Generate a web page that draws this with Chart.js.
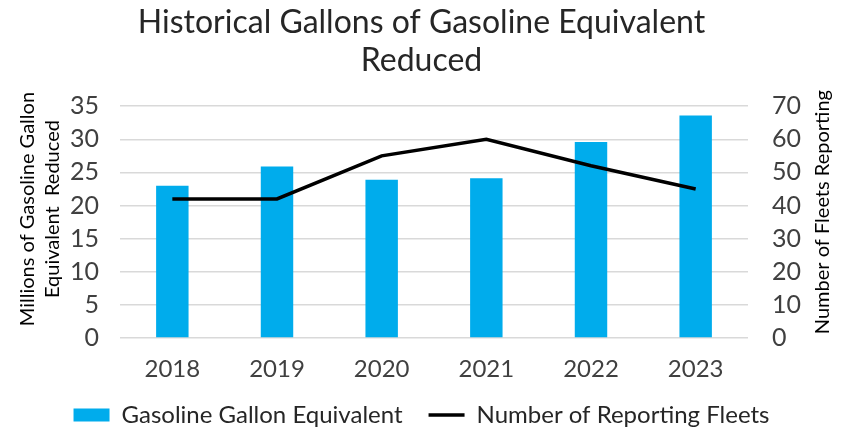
<!DOCTYPE html>
<html>
<head>
<meta charset="utf-8">
<script src="https://cdn.jsdelivr.net/npm/chart.js@4"></script>
<style>
  html, body { margin: 0; padding: 0; background: #fff; }
  #wrap { width: 843px; height: 430px; }
</style>
</head>
<body>
<div id="wrap"><canvas id="chart" width="843" height="430"></canvas></div>
<script>
const years = ['2018', '2019', '2020', '2021', '2022', '2023'];
const gallons = [23.0, 25.9, 23.9, 24.1, 29.6, 33.6];
const fleets = [42, 42, 55, 60, 52, 45];
const leftTicks = [0, 5, 10, 15, 20, 25, 30, 35];
const rightTicks = [0, 10, 20, 30, 40, 50, 60, 70];
const leftTitle = ['Millions of Gasoline Gallon', 'Equivalent  Reduced'];
const rightTitle = 'Number of Fleets Reporting';

const FONT = 'Lato, "Open Sans", sans-serif';
const BLUE = '#00acec';
const GRID = '#d9d9d9';
const TICK = '#404040';

Chart.defaults.font.family = FONT;

// axis titles drawn by hand so both read bottom-to-top like the original
const axisTitles = {
  id: 'axisTitles',
  afterDraw(chart) {
    const { ctx, chartArea } = chart;
    const midY = (chartArea.top + chartArea.bottom) / 2 - 13;
    ctx.save();
    ctx.fillStyle = '#000';
    ctx.font = '20px ' + FONT;
    ctx.textAlign = 'center';
    ctx.textBaseline = 'middle';
    leftTitle.forEach((line, i) => {
      ctx.save();
      ctx.translate(28 + i * 25, midY);
      ctx.rotate(-Math.PI / 2);
      ctx.fillText(line, 0, 0);
      ctx.restore();
    });
    ctx.translate(chart.width - 20, midY + 3);
    ctx.rotate(-Math.PI / 2);
    ctx.fillText(rightTitle, 0, 0);
    ctx.restore();
  }
};

new Chart(document.getElementById('chart'), {
  type: 'bar',
  data: {
    labels: years,
    datasets: [
      {
        type: 'line',
        label: 'Number of Reporting Fleets',
        data: fleets,
        yAxisID: 'y1',
        borderColor: '#000',
        backgroundColor: '#000',
        borderWidth: 3.5,
        pointRadius: 0,
        pointStyle: 'line',
        tension: 0,
        order: 0
      },
      {
        label: 'Gasoline Gallon Equivalent',
        data: gallons,
        yAxisID: 'y',
        backgroundColor: BLUE,
        barPercentage: 0.31,
        categoryPercentage: 1,
        pointStyle: 'rect',
        order: 1
      }
    ]
  },
  plugins: [axisTitles],
  options: {
    responsive: false,
    animation: false,
    layout: { padding: { left: 0, right: 0, top: 0, bottom: -7 } },
    plugins: {
      title: {
        display: true,
        text: ['Historical Gallons of Gasoline Equivalent', 'Reduced'],
        color: '#262626',
        font: { size: 32, weight: 'normal', lineHeight: 1.19 },
        padding: { top: 4, bottom: 26 }
      },
      legend: {
        position: 'bottom',
        reverse: true,
        labels: {
          usePointStyle: true,
          pointStyleWidth: 36,
          boxHeight: 13,
          color: '#262626',
          font: { size: 24 },
          padding: 26
        }
      },
      tooltip: { enabled: false }
    },
    scales: {
      x: {
        afterFit: (s) => { s.height = 39; },
        grid: { display: false, drawTicks: false },
        border: { display: false },
        ticks: { color: TICK, font: { size: 24 }, padding: 17 }
      },
      y: {
        position: 'left',
        min: 0,
        max: 35,
        afterBuildTicks: (s) => { s.ticks = leftTicks.map((v) => ({ value: v })); },
        afterFit: (s) => { s.width = 120; },
        grid: { color: GRID, lineWidth: 1.5, drawTicks: false },
        border: { display: false },
        ticks: { color: TICK, font: { size: 25 }, padding: 21 }
      },
      y1: {
        position: 'right',
        min: 0,
        max: 70,
        afterBuildTicks: (s) => { s.ticks = rightTicks.map((v) => ({ value: v })); },
        afterFit: (s) => { s.width = 95; },
        grid: { display: false, drawTicks: false },
        border: { display: false },
        ticks: { color: TICK, font: { size: 25 }, padding: 24 }
      }
    }
  }
});
</script>
</body>
</html>
